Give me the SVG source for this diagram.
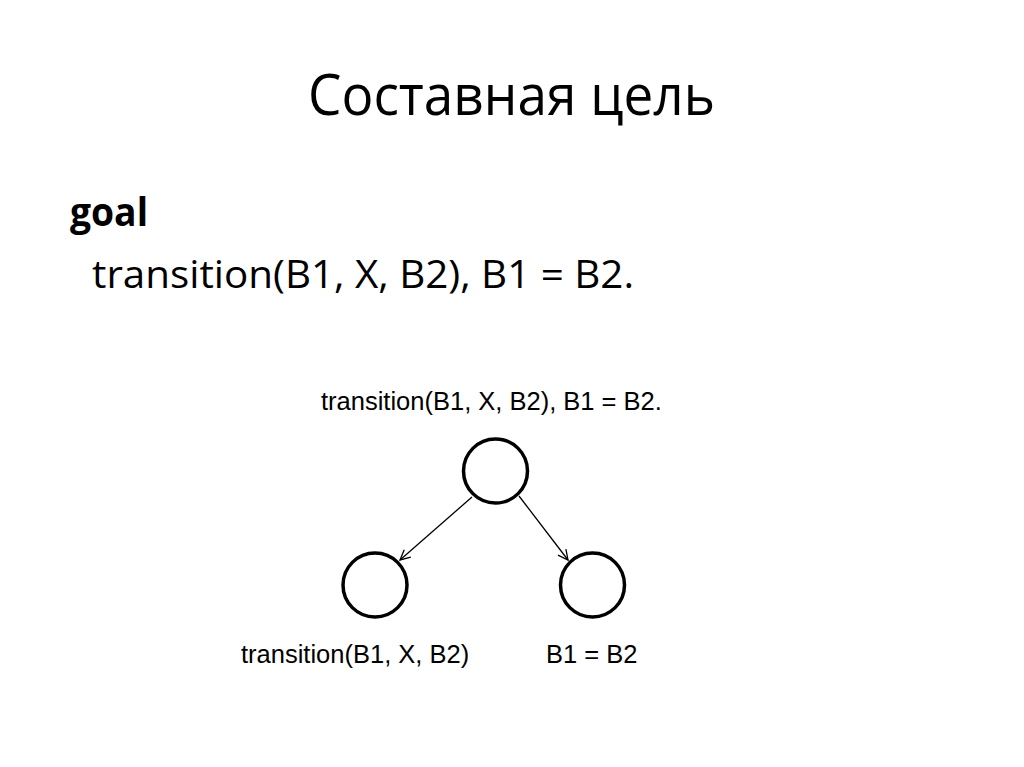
<svg xmlns="http://www.w3.org/2000/svg" width="1024" height="767" viewBox="0 0 1024 767">
<style>
.title{font-family:"Open Sans","Liberation Sans",sans-serif;font-size:56px;fill:#000}
.body{font-family:"Open Sans","Liberation Sans",sans-serif;fill:#000}
.lbl{font-family:"Liberation Sans",Arial,sans-serif;font-size:25.5px;fill:#000}
.node{fill:#fff;stroke:#000;stroke-width:3.5}
.edge{stroke:#000;stroke-width:1.3;fill:none}
</style>
<defs>
<marker id="arr" viewBox="0 0 12 12" refX="11" refY="6" markerWidth="12" markerHeight="12" markerUnits="userSpaceOnUse" orient="auto">
<path d="M1,1 L11,6 L1,11" fill="none" stroke="#000" stroke-width="1.3"/>
</marker>
</defs>
<rect width="1024" height="767" fill="#fff"/>
<text class="title" x="308" y="115" textLength="407" lengthAdjust="spacingAndGlyphs">Составная цель</text>
<text class="body" x="70" y="226" font-size="40" font-weight="bold" textLength="78" lengthAdjust="spacingAndGlyphs">goal</text>
<text class="body" x="92" y="288" font-size="38" textLength="542" lengthAdjust="spacingAndGlyphs">transition(B1, X, B2), B1 = B2.</text>
<g id="edges">
<line class="edge" x1="472" y1="497" x2="400" y2="560" marker-end="url(#arr)"/>
<line class="edge" x1="519" y1="496" x2="568" y2="560" marker-end="url(#arr)"/>
</g>
<g id="root">
<circle class="node" cx="495.5" cy="471" r="32"/>
<text class="lbl" x="321" y="410">transition(B1, X, B2), B1 = B2.</text>
</g>
<g id="left">
<circle class="node" cx="375" cy="585" r="32"/>
<text class="lbl" x="241" y="663">transition(B1, X, B2)</text>
</g>
<g id="right">
<circle class="node" cx="592.5" cy="585" r="32"/>
<text class="lbl" x="546" y="663">B1 = B2</text>
</g>
</svg>
